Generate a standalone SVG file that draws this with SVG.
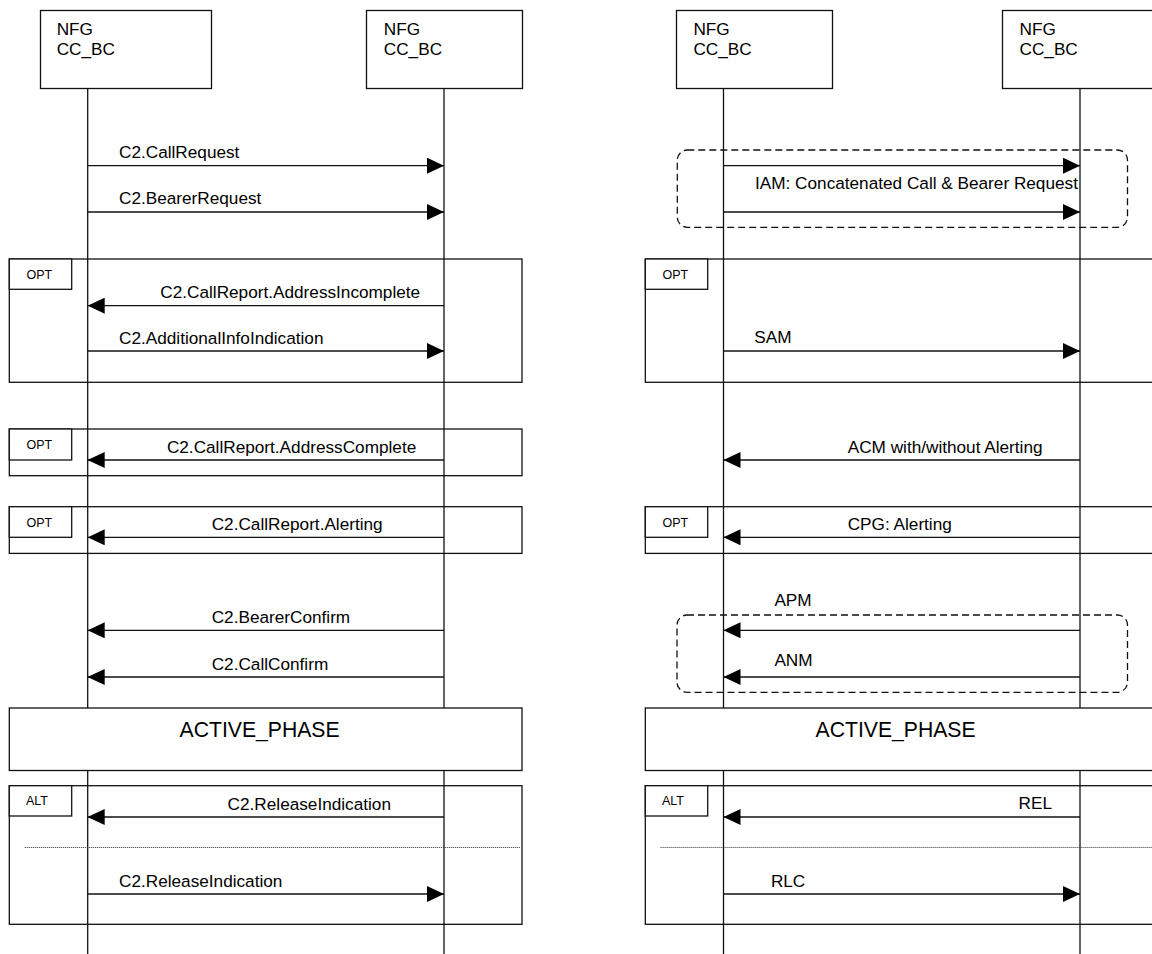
<svg xmlns="http://www.w3.org/2000/svg" width="1152" height="954" viewBox="0 0 1152 954">
  <style>
    text { font-family: "Liberation Sans", Arial, sans-serif; fill: #000; }
    .head { fill: #fff; stroke: #111; stroke-width: 1.3; }
    .life { stroke: #111; stroke-width: 1.3; fill: none; }
    .frame { fill: none; stroke: #111; stroke-width: 1.3; }
    .phase { fill: #fff; stroke: #111; stroke-width: 1.3; }
    .tag { fill: #fff; stroke: #111; stroke-width: 1.3; }
    .grp { fill: none; stroke: #111; stroke-width: 1.3; stroke-dasharray: 7 4; }
    .sep { stroke: #333; stroke-width: 1; stroke-dasharray: 1 1; }
    .msg { stroke: #111; stroke-width: 1.3; fill: none; marker-end: url(#arr); }
    .name { font-size: 17.2px; }
    .lbl { font-size: 17.2px; }
    .kw { font-size: 12.5px; }
    .ph { font-size: 21.2px; }
  </style>
  <defs>
    <marker id="arr" markerUnits="userSpaceOnUse" markerWidth="17" markerHeight="16" refX="17" refY="8" orient="auto">
      <path d="M0,0 L17,8 L0,16 Z" fill="#000"/>
    </marker>
  </defs>

  <rect width="1152" height="954" fill="#fff"/>

  <!-- lifelines -->
  <g id="lifelines">
    <line class="life" x1="87.7" y1="88.5" x2="87.7" y2="954"/>
    <line class="life" x1="444" y1="88.5" x2="444" y2="954"/>
    <line class="life" x1="723.5" y1="88.5" x2="723.5" y2="954"/>
    <line class="life" x1="1080" y1="88.5" x2="1080" y2="954"/>
  </g>

  <!-- participant heads: CC_BC side -->
  <g id="cc-a">
    <rect class="head" x="40.5" y="10.5" width="171" height="78"/>
    <text class="name" x="56.7" y="35">NFG</text>
    <text class="name" x="56.7" y="55">CC_BC</text>
  </g>
  <g id="cc-b">
    <rect class="head" x="366.5" y="10.5" width="156" height="78"/>
    <text class="name" x="383.8" y="35">NFG</text>
    <text class="name" x="383.8" y="55">CC_BC</text>
  </g>

  <!-- participant heads: ISUP side -->
  <g id="isup-a">
    <rect class="head" x="676.5" y="10.5" width="156" height="78"/>
    <text class="name" x="693.4" y="35">NFG</text>
    <text class="name" x="693.4" y="55">CC_BC</text>
  </g>
  <g id="isup-b">
    <rect class="head" x="1002.5" y="10.5" width="171" height="78"/>
    <text class="name" x="1019.5" y="35">NFG</text>
    <text class="name" x="1019.5" y="55">CC_BC</text>
  </g>

  <!-- combined fragments, left -->
  <g id="opt-incomplete">
    <rect class="frame" x="9.3" y="259" width="512.7" height="123.3"/>
    <rect class="tag" x="9.3" y="259" width="62.4" height="30.3"/>
    <text class="kw" x="26.5" y="278.5">OPT</text>
  </g>
  <g id="opt-complete">
    <rect class="frame" x="9.3" y="429" width="512.7" height="46.7"/>
    <rect class="tag" x="9.3" y="429" width="62.4" height="31"/>
    <text class="kw" x="26.5" y="449">OPT</text>
  </g>
  <g id="opt-alerting">
    <rect class="frame" x="9.3" y="506.7" width="512.7" height="46.7"/>
    <rect class="tag" x="9.3" y="506.7" width="62.4" height="30.6"/>
    <text class="kw" x="26.5" y="526.5">OPT</text>
  </g>
  <g id="active-left">
    <rect class="phase" x="9.3" y="708" width="512.7" height="62.5"/>
    <text class="ph" x="179.5" y="737">ACTIVE_PHASE</text>
  </g>
  <g id="alt-left">
    <rect class="frame" x="9.3" y="785.7" width="512.7" height="138.6"/>
    <rect class="tag" x="9.3" y="785.7" width="62.4" height="30.3"/>
    <text class="kw" x="25.9" y="805">ALT</text>
    <line class="sep" x1="24.8" y1="847.5" x2="520.7" y2="847.5"/>
  </g>

  <!-- combined fragments, right -->
  <g id="iam-group">
    <rect class="grp" x="677.3" y="150" width="450.2" height="77.3" rx="10" ry="10"/>
  </g>
  <g id="opt-sam">
    <rect class="frame" x="645.3" y="259" width="512.7" height="123.3"/>
    <rect class="tag" x="645.3" y="259" width="62.4" height="30.3"/>
    <text class="kw" x="662.5" y="278.5">OPT</text>
  </g>
  <g id="opt-cpg">
    <rect class="frame" x="645.3" y="506.7" width="512.7" height="46.7"/>
    <rect class="tag" x="645.3" y="506.7" width="62.4" height="30.6"/>
    <text class="kw" x="662.5" y="526.5">OPT</text>
  </g>
  <g id="apm-anm-group">
    <rect class="grp" x="677" y="615" width="450.5" height="77.3" rx="10" ry="10"/>
  </g>
  <g id="active-right">
    <rect class="phase" x="645.3" y="708" width="512.7" height="62.5"/>
    <text class="ph" x="815.5" y="737">ACTIVE_PHASE</text>
  </g>
  <g id="alt-right">
    <rect class="frame" x="645.3" y="785.7" width="512.7" height="138.6"/>
    <rect class="tag" x="645.3" y="785.7" width="62.4" height="30.3"/>
    <text class="kw" x="661.9" y="805">ALT</text>
    <line class="sep" x1="660.6" y1="847.5" x2="1156.7" y2="847.5"/>
  </g>

  <!-- messages -->
  <g id="connectors">
    <line class="msg" x1="87.7" y1="165.7" x2="444" y2="165.7"/>
    <text class="lbl" x="119" y="158">C2.CallRequest</text>
    <line class="msg" x1="87.7" y1="212" x2="444" y2="212"/>
    <text class="lbl" x="119" y="204">C2.BearerRequest</text>

    <line class="msg" x1="444" y1="305.7" x2="87.7" y2="305.7"/>
    <text class="lbl" x="160.3" y="298">C2.CallReport.AddressIncomplete</text>
    <line class="msg" x1="87.7" y1="351" x2="444" y2="351"/>
    <text class="lbl" x="119" y="344">C2.AdditionalInfoIndication</text>

    <line class="msg" x1="444" y1="460" x2="87.7" y2="460"/>
    <text class="lbl" x="166.9" y="452.5">C2.CallReport.AddressComplete</text>

    <line class="msg" x1="444" y1="537.3" x2="87.7" y2="537.3"/>
    <text class="lbl" x="211.7" y="529.5">C2.CallReport.Alerting</text>

    <line class="msg" x1="444" y1="630.3" x2="87.7" y2="630.3"/>
    <text class="lbl" x="211.7" y="623">C2.BearerConfirm</text>
    <line class="msg" x1="444" y1="677" x2="87.7" y2="677"/>
    <text class="lbl" x="211.7" y="669.5">C2.CallConfirm</text>

    <line class="msg" x1="444" y1="817" x2="87.7" y2="817"/>
    <text class="lbl" x="227.6" y="810">C2.ReleaseIndication</text>
    <line class="msg" x1="87.7" y1="894" x2="444" y2="894"/>
    <text class="lbl" x="119" y="886.7">C2.ReleaseIndication</text>

    <line class="msg" x1="723.5" y1="165.7" x2="1080" y2="165.7"/>
    <line class="msg" x1="723.5" y1="212" x2="1080" y2="212"/>
    <text class="lbl" x="755" y="189">IAM: Concatenated Call &amp; Bearer Request</text>

    <line class="msg" x1="723.5" y1="351" x2="1080" y2="351"/>
    <text class="lbl" x="754.3" y="343">SAM</text>

    <line class="msg" x1="1080" y1="460" x2="723.5" y2="460"/>
    <text class="lbl" x="847.7" y="452.5">ACM with/without Alerting</text>

    <line class="msg" x1="1080" y1="537.3" x2="723.5" y2="537.3"/>
    <text class="lbl" x="847.7" y="529.5">CPG: Alerting</text>

    <line class="msg" x1="1080" y1="630.3" x2="723.5" y2="630.3"/>
    <text class="lbl" x="774.4" y="606">APM</text>
    <line class="msg" x1="1080" y1="677" x2="723.5" y2="677"/>
    <text class="lbl" x="774.4" y="666">ANM</text>

    <line class="msg" x1="1080" y1="817" x2="723.5" y2="817"/>
    <text class="lbl" x="1018.6" y="809">REL</text>
    <line class="msg" x1="723.5" y1="894" x2="1080" y2="894"/>
    <text class="lbl" x="770.9" y="886.7">RLC</text>
  </g>
</svg>
